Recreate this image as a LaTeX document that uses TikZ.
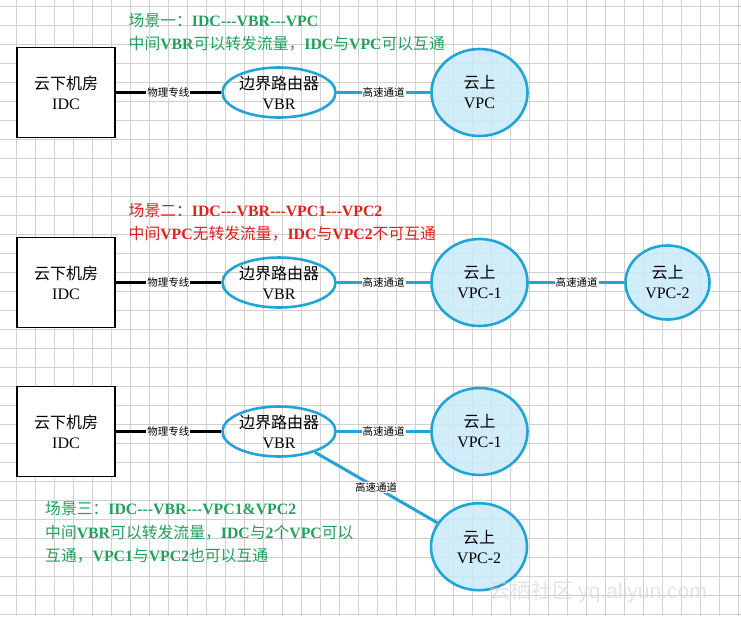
\documentclass[tikz,border=0pt]{standalone}
\usepackage{fontspec}
\setmainfont{Liberation Serif}
\newfontfamily\cjk{Noto Sans CJK SC}
\newfontfamily\wmfont{Liberation Sans}
\usetikzlibrary{shapes.geometric}
\definecolor{cblue}{HTML}{22A5D6}
\definecolor{cfill}{HTML}{C8EBF8}
\definecolor{tgreen}{HTML}{22A05C}
\definecolor{tred}{HTML}{E0201C}
\definecolor{gridc}{HTML}{D0D0D0}
\newcommand\zh[1]{{\cjk #1}}
\newcommand\hy{\mbox{-}}
\newcommand\dashes{\hy\hy\hy}
\tikzset{
  gridline/.style={draw=gridc, line width=0.9pt},
  idcbox/.style={rectangle, draw=black, line width=1.2pt, fill=white,
    minimum width=98pt, minimum height=90pt, inner sep=0pt, align=center,
    font=\fontsize{16}{20}\selectfont},
  vbrnode/.style={ellipse, draw=cblue, line width=2.6pt, minimum width=111pt,
    minimum height=50pt, inner sep=0pt, align=center,
    font=\fontsize{16}{20}\selectfont},
  vpcnode/.style={ellipse, draw=cblue, line width=2.6pt, fill=cfill,
    fill opacity=0.85, text opacity=1, minimum width=96pt, minimum height=87pt,
    inner sep=0pt, align=center, font=\fontsize{16}{20}\selectfont},
  vpcsmall/.style={vpcnode, minimum width=84pt, minimum height=74pt},
  phys/.style={draw=black, line width=3pt},
  fast/.style={draw=cblue, line width=3pt},
  lbl/.style={fill=white, inner sep=1pt, text=black,
    font=\cjk\fontsize{10.5}{12}\selectfont},
  ttl/.style={anchor=base west, inner sep=0pt, font=\fontsize{15.8}{20}\selectfont},
}
\begin{document}
\begin{tikzpicture}[x=1pt,y=-1pt]
\useasboundingbox (0,0) rectangle (741,616);
\fill[white] (0,0) rectangle (741,616);
% grid
\foreach \i in {0,...,39} \draw[gridline] ({-2.5+19*\i},0) -- ({-2.5+19*\i},616);
\foreach \j in {0,...,33} \draw[gridline] (0,{-13+19*\j}) -- (741,{-13+19*\j});

% ---------- scenario 1 ----------
\node[ttl, text=tgreen] (t1a) at (128.5,26) {\zh{场景一：}\textbf{IDC\dashes VBR\dashes VPC}};
\node[ttl, text=tgreen] (t1b) at (128.5,49) {\zh{中间}\textbf{VBR}\zh{可以转发流量，}\textbf{IDC}\zh{与}\textbf{VPC}\zh{可以互通}};
\node[idcbox] (idc1) at (66,92.5) {\zh{云下机房}\\IDC};
\node[vbrnode] (vbr1) at (279,92.5) {\zh{边界路由器}\\VBR};
\node[vpcnode] (vpc1) at (479.5,92.5) {\zh{云上}\\VPC};
\draw[phys] (idc1) -- node[lbl] (l1a) {物理专线} (vbr1);
\draw[fast] (vbr1) -- node[lbl] (l1b) {高速通道} (vpc1);

% ---------- scenario 2 ----------
\node[ttl, text=tred] (t2a) at (128.5,216) {\zh{场景二：}\textbf{IDC\dashes VBR\dashes VPC1\dashes VPC2}};
\node[ttl, text=tred] (t2b) at (128.5,239) {\zh{中间}\textbf{VPC}\zh{无转发流量，}\textbf{IDC}\zh{与}\textbf{VPC2}\zh{不可互通}};
\node[idcbox] (idc2) at (66,282.5) {\zh{云下机房}\\IDC};
\node[vbrnode] (vbr2) at (279,282.5) {\zh{边界路由器}\\VBR};
\node[vpcnode] (vpc21) at (479.5,282.5) {\zh{云上}\\VPC-1};
\node[vpcsmall] (vpc22) at (667.5,282.5) {\zh{云上}\\VPC-2};
\draw[phys] (idc2) -- node[lbl] (l2a) {物理专线} (vbr2);
\draw[fast] (vbr2) -- node[lbl] (l2b) {高速通道} (vpc21);
\draw[fast] (vpc21) -- node[lbl] (l2c) {高速通道} (vpc22);

% ---------- scenario 3 ----------
\node[idcbox] (idc3) at (66,431.5) {\zh{云下机房}\\IDC};
\node[vbrnode] (vbr3) at (279,431.5) {\zh{边界路由器}\\VBR};
\node[vpcnode] (vpc31) at (479.5,431.5) {\zh{云上}\\VPC-1};
\node[vpcnode] (vpc32) at (479,546.7) {\zh{云上}\\VPC-2};
\draw[phys] (idc3) -- node[lbl] (l3a) {物理专线} (vbr3);
\draw[fast] (vbr3) -- node[lbl] (l3b) {高速通道} (vpc31);
\draw[fast] (vbr3) -- node[lbl] (l3c) {高速通道} (vpc32);
\node[ttl, text=tgreen] (t3a) at (45,514) {\zh{场景三：}\textbf{IDC\dashes VBR\dashes VPC1\&VPC2}};
\node[ttl, text=tgreen] (t3b) at (45,538) {\zh{中间}\textbf{VBR}\zh{可以转发流量，}\textbf{IDC}\zh{与}\textbf{2}\zh{个}\textbf{VPC}\zh{可以}};
\node[ttl, text=tgreen] (t3c) at (45,561) {\zh{互通，}\textbf{VPC1}\zh{与}\textbf{VPC2}\zh{也可以互通}};

% watermark
\node[anchor=base west, inner sep=0pt, text=gray!35, text opacity=0.6,
  font=\fontsize{21}{24}\selectfont] (wm) at (489,598) {\zh{云栖社区} \wmfont yq.aliyun.com};
\end{tikzpicture}
\end{document}
